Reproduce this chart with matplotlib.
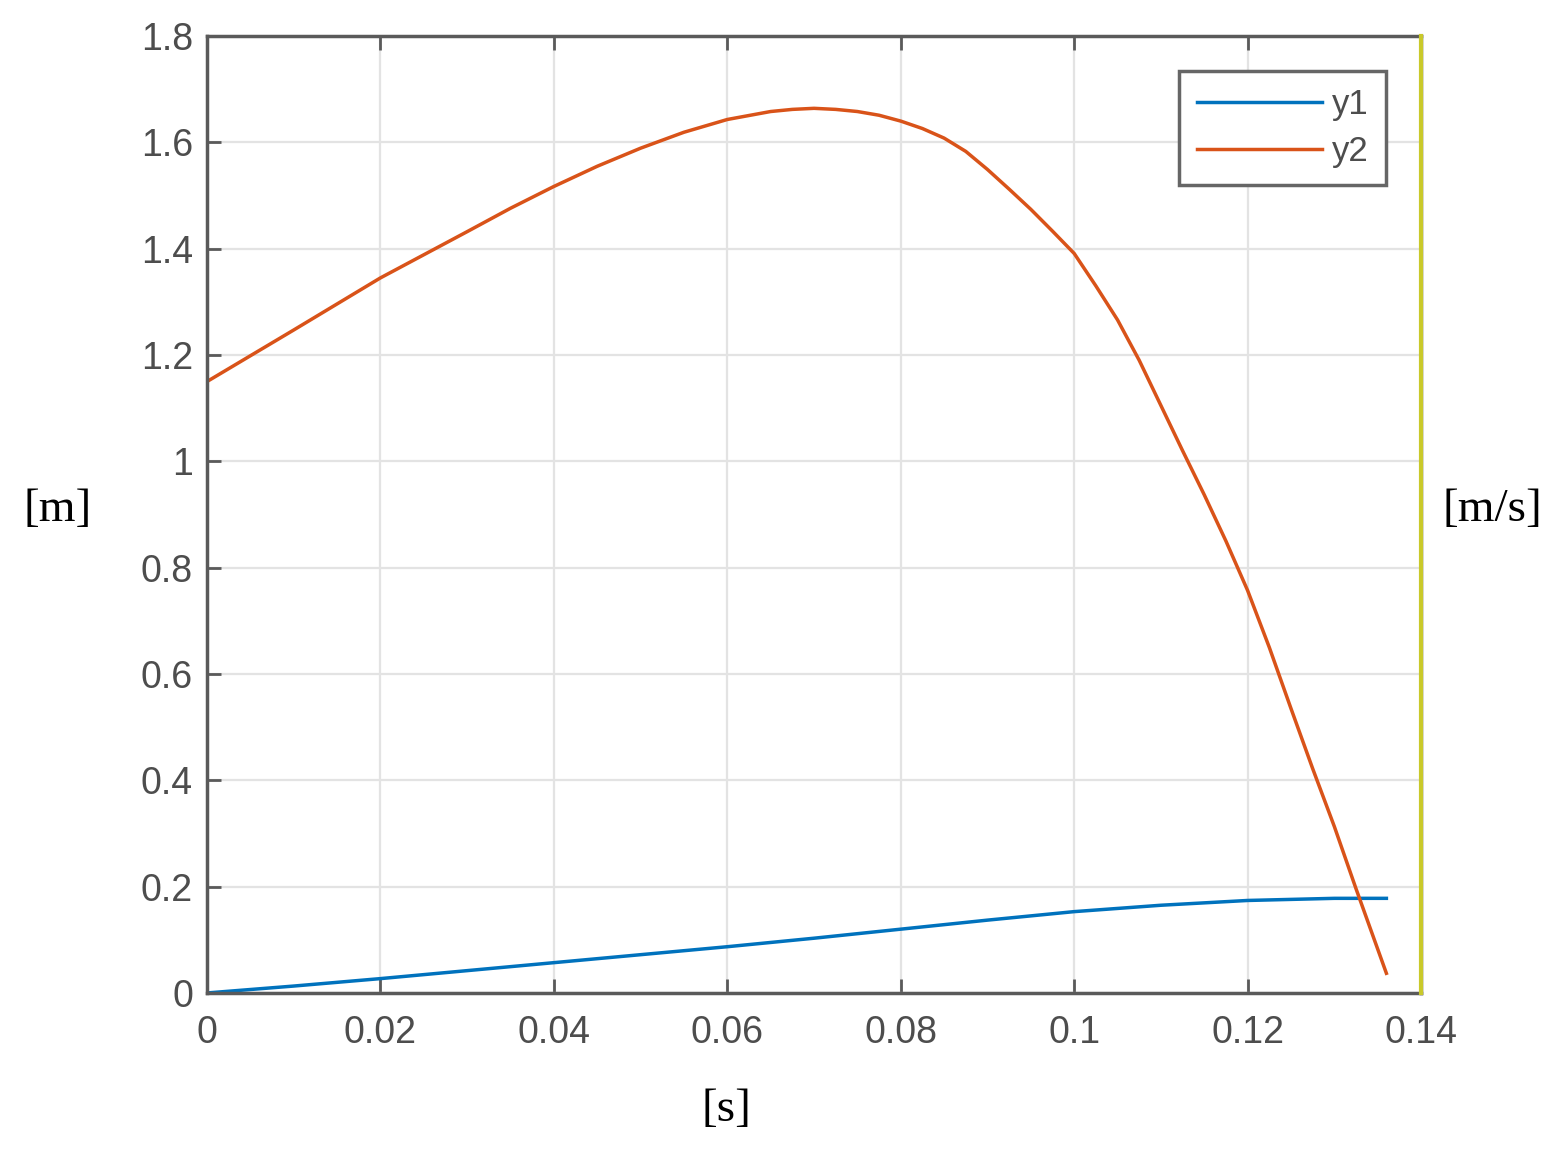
import numpy as np
import matplotlib
matplotlib.use("Agg")
import matplotlib.pyplot as plt
from matplotlib.ticker import FuncFormatter

# values
T_Y1 = [0, 0.01, 0.02, 0.03, 0.04, 0.05, 0.06, 0.07, 0.08, 0.09, 0.1,
        0.11, 0.12, 0.13, 0.136]
Y1 = [0.0, 0.013, 0.027, 0.042, 0.057, 0.072, 0.087, 0.103, 0.120, 0.137,
      0.153, 0.165, 0.174, 0.178, 0.178]

T_Y2 = [0, 0.01, 0.02, 0.03, 0.035, 0.04, 0.045, 0.05, 0.055, 0.06, 0.065,
        0.0675, 0.07, 0.0725, 0.075, 0.0775, 0.08, 0.0825, 0.085, 0.0875,
        0.09, 0.0925, 0.095, 0.0975, 0.1, 0.1025, 0.105, 0.1075, 0.11,
        0.1125, 0.115, 0.1175, 0.12, 0.1225, 0.125, 0.1275, 0.13, 0.1325,
        0.136]
Y2 = [1.150, 1.247, 1.345, 1.432, 1.476, 1.517, 1.555, 1.589, 1.619, 1.643,
      1.658, 1.662, 1.664, 1.662, 1.658, 1.651, 1.640, 1.626, 1.608, 1.583,
      1.549, 1.512, 1.474, 1.433, 1.391, 1.33, 1.266, 1.19, 1.105,
      1.02, 0.937, 0.85, 0.757, 0.65, 0.535, 0.422, 0.313, 0.196,
      0.037]

SERIES = ["y1", "y2"]
X_TICKS = [0, 0.02, 0.04, 0.06, 0.08, 0.1, 0.12, 0.14]
Y_TICKS = [0, 0.2, 0.4, 0.6, 0.8, 1.0, 1.2, 1.4, 1.6, 1.8]

BLUE = "#0072BD"
ORANGE = "#D95319"
AXIS_GRAY = "#5a5a5a"
LABEL_GRAY = "#4d4d4d"

plt.rcParams["font.family"] = ["Liberation Sans", "DejaVu Sans"]

fig = plt.figure(figsize=(15.63, 11.51), dpi=100)
ax = fig.add_axes([0.1324, 0.1373, 0.7768, 0.8314])

ax.plot(T_Y1, Y1, color=BLUE, lw=2.5, label=SERIES[0])
ax.plot(T_Y2, Y2, color=ORANGE, lw=2.5, label=SERIES[1])

ax.set_xlim(0, 0.14)
ax.set_ylim(0, 1.8)
ax.set_xticks(X_TICKS)
ax.set_yticks(Y_TICKS)
fmt = FuncFormatter(lambda v, p: f"{v:g}")
ax.xaxis.set_major_formatter(fmt)
ax.yaxis.set_major_formatter(fmt)

ax.grid(True, color="#e3e3e3", lw=1.6)
ax.set_axisbelow(True)
ax.tick_params(direction="in", top=True, right=True, length=10, width=2,
               color=AXIS_GRAY, labelcolor=LABEL_GRAY, labelsize=27)
ax.tick_params(axis="x", pad=16)
ax.tick_params(axis="y", pad=10)
for spine in ax.spines.values():
    spine.set_color(AXIS_GRAY)
    spine.set_linewidth(2.5)

ax.set_xlabel("[s]", family="Liberation Serif", fontsize=34, va="center")
ax.xaxis.set_label_coords(0.428, -0.122)
ax.set_ylabel("[m]", family="Liberation Serif", fontsize=34, rotation=0,
              va="center")
ax.yaxis.set_label_coords(-0.123, 0.505)

# right axis (only its yellow line and label are visible)
ax2 = ax.twinx()
ax2.set_ylim(0, 1.8)
ax2.set_yticks([])
for name, spine in ax2.spines.items():
    spine.set_visible(name == "right")
ax2.spines["right"].set_color("#c9c92a")
ax2.spines["right"].set_linewidth(3)
ax2.set_ylabel("[m/s]", family="Liberation Serif", fontsize=34, rotation=0,
               va="center")
ax2.yaxis.set_label_coords(1.059, 0.505)

leg = ax.legend(loc="upper right", fontsize=25, handlelength=3.6,
                handletextpad=0.3, labelspacing=0.4, borderaxespad=1.0,
                borderpad=0.5, fancybox=False, framealpha=1)
leg.get_frame().set_edgecolor("#666666")
leg.get_frame().set_linewidth(2.5)
for t in leg.get_texts():
    t.set_color(LABEL_GRAY)

fig.savefig("out.png", dpi=100, facecolor="white")
